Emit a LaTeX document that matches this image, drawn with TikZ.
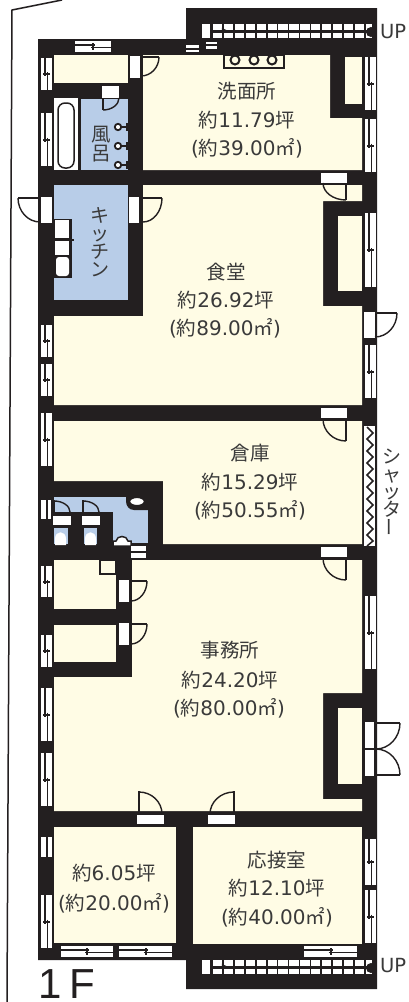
\documentclass[tikz,border=0pt]{standalone}
\usepackage{fontspec}
\usepackage{graphicx}
\usetikzlibrary{calc,arrows.meta}
\newfontfamily\jpf{Noto Sans CJK JP}
\newfontfamily\dgf{DejaVu Sans}
\newfontfamily\lbf{Liberation Sans}
\definecolor{wallc}{HTML}{231F20}
\definecolor{creamc}{HTML}{FFFCE5}
\definecolor{bluec}{HTML}{B8CDE8}
\definecolor{textc}{HTML}{3A3A3A}
\newcommand{\nm}[1]{{\dgf\fontsize{20}{22}\selectfont #1}}
\newcommand{\vwin}[3]{%
  \fill[white] (#1,#2) rectangle ({#1+10.5},#3);
  \draw[rail] ({#1+4},#2) -- ({#1+4},{(#2+#3)/2+2});
  \draw[rail] ({#1+6.5},{(#2+#3)/2-2}) -- ({#1+6.5},#3);
  \draw[line width=2pt,wallc] ({#1+2},{(#2+#3)/2}) -- ({#1+8.5},{(#2+#3)/2});
}
\newcommand{\hwin}[3]{%
  \fill[white] (#1,#3) rectangle (#2,{#3+11});
  \draw[rail] (#1,{#3+4}) -- ({(#1+#2)/2+2},{#3+4});
  \draw[rail] ({(#1+#2)/2-2},{#3+6.5}) -- (#2,{#3+6.5});
  \draw[line width=2pt,wallc] ({(#1+#2)/2},{#3+2}) -- ({(#1+#2)/2},{#3+8.5});
}
\newcommand{\dcurve}[3]{%
  \draw[doorline] (#1) .. controls ($(#1)!.55!(#2)$) and ($(#3)!.55!(#2)$) .. (#3);
}
\newcommand{\stairs}[1]{%
  \fill[white] (202,#1) rectangle (210,{#1+14});
  \foreach \k in {0,...,14} {
    \fill[white] ({213+\k*10.9},#1) rectangle ({min(213+\k*10.9+9.3,372)},{#1+6});
    \fill[white] ({213+\k*10.9},{#1+9}) rectangle ({min(213+\k*10.9+9.3,372)},{#1+14});
  }
  \draw[line width=1.5pt,wallc,-{Latex[length=6pt,width=7pt]}] (213,{#1+7.5}) -- (228,{#1+6.5});
  \fill[wallc] (371,{#1+8}) circle (5);
}
\begin{document}
\begin{tikzpicture}[x=1pt,y=-1pt,
  rail/.style={line width=1.4pt,wallc},
  doorline/.style={line width=1.4pt,wallc},
  leaf/.style={fill=white},
  roomtext/.style={text=textc,font=\jpf\fontsize{19.5}{22}\selectfont,inner sep=0pt,anchor=center},
  uptext/.style={text=textc,font=\dgf\fontsize{19.5}{22}\selectfont,inner sep=0pt,anchor=west}]
\useasboundingbox (0,0) rectangle (408,1002);
\fill[white] (0,0) rectangle (408,1002);
% site line
\draw[line width=1.5pt,wallc] (62,0) -- (12,10) -- (7,1002);
% walls
\fill[wallc] (38,39) -- (186,39) -- (186,8) -- (377,8) -- (377,989) -- (186,989) -- (186,960) -- (38,960) -- cycle;
% cream rooms
\fill[creamc] (143,55) -- (330,55) -- (330,118) -- (362,118) -- (362,170) -- (143,170) -- cycle;
\fill[creamc] (345,57) rectangle (362,104);
\fill[creamc] (54,55) rectangle (128,83);
\fill[creamc] (143,185) -- (362,185) -- (362,201) -- (323,201) -- (323,306) -- (362,306) -- (362,405) -- (54,405) -- (54,316) -- (143,316) -- cycle;
\fill[creamc] (338,216) rectangle (362,291);
\fill[creamc] (54,421) -- (362,421) -- (362,544) -- (163,544) -- (163,481) -- (54,481) -- cycle;
\fill[creamc] (132,560) -- (362,560) -- (362,693) -- (323,693) -- (323,799) -- (362,799) -- (362,811) -- (54,811) -- (54,677) -- (132,677) -- cycle;
\fill[creamc] (338,708) rectangle (362,784);
\fill[creamc] (54,560) rectangle (116,609);
\fill[wallc] (99,560) rectangle (116,575);
\fill[creamc] (101,561) rectangle (115,573);
\fill[creamc] (54,625) rectangle (116,662);
\fill[creamc] (54,827) rectangle (176,943);
\fill[creamc] (193,827) rectangle (362,944);
% blue rooms
\fill[white] (54,98) rectangle (78,170);
\fill[bluec] (81,99) rectangle (128,170);
\fill[bluec] (54,185) rectangle (128,300);
\fill[bluec] (54,497) rectangle (148,543);
% bath
\draw[line width=1.5pt,wallc,rounded corners=7pt] (58,103) rectangle (74,168);
\foreach \yy in {127,146,165} {
  \draw[line width=1.8pt,wallc,fill=white] (118,\yy) circle (3.2);
  \draw[line width=1.2pt,wallc] (121,\yy) -- (128,\yy);
  \draw[line width=1.2pt,wallc] (127,{\yy-4}) -- (127,{\yy+4});
}
% sink counter
\draw[line width=1.5pt,wallc,fill=creamc] (224,55) rectangle (284,68);
\foreach \xx in {235,254,272} \draw[line width=2pt,wallc,fill=creamc] (\xx,60) circle (4.5);
% kitchen counter
\fill[wallc] (54,219) rectangle (72,278);
\fill[white] (55,220) rectangle (69,238);
\fill[white] (55,241) rectangle (69,255);
\fill[white,rounded corners=3pt] (56,257) rectangle (69,276);
\draw[line width=1.4pt,wallc] (54,240) -- (74,240);
% toilets
\fill[wallc] (54,512) rectangle (113,546);
\fill[wallc] (113,543) rectangle (132,546);
\fill[bluec] (54,528) rectangle (68,544);
\fill[bluec] (84,528) rectangle (97,544);
\fill[wallc] (54,544) rectangle (132,560);
\fill[white] (55,545) -- (55,539) .. controls (55,530) and (66,530) .. (66,539) -- (66,545) -- cycle;
\fill[white] (85,545) -- (85,539) .. controls (85,530) and (96,530) .. (96,539) -- (96,545) -- cycle;
\fill[white] (53,516) rectangle (71,525);
\fill[white] (82,516) rectangle (100,525);
\draw[line width=1.4pt,wallc] (54,500) -- (54,512);
\coordinate (ta) at (54,501); \coordinate (tk) at (70,501); \coordinate (tb) at (70,512);
\dcurve{ta}{tk}{tb}
\draw[line width=1.4pt,wallc] (83,500) -- (83,512);
\coordinate (ua) at (83,501); \coordinate (uk) at (99,501); \coordinate (ub) at (99,512);
\dcurve{ua}{uk}{ub}
\draw[line width=1.5pt,wallc,fill=white] (113,546) -- (113,541) -- (116,541) .. controls (117,535) and (127,535) .. (128,541) -- (131,541) -- (131,546) -- cycle;
\fill[wallc] (126,495) -- (148,495) -- (148,510) -- (134,510) .. controls (129,510) and (126,506) .. (126,501) -- cycle;
\draw[line width=1.5pt,wallc,fill=white] (137,501.5) ellipse (7.5 and 4.2);
\fill[white] (131,546) rectangle (146,551);
\fill[white] (131,553) rectangle (146,558);
\fill[white] (41,500) rectangle (46,519);
\fill[white] (48,500) rectangle (51,519);
% left windows
\vwin{41}{58}{90}
\vwin{41}{113}{166}
\vwin{41}{325}{357}
\vwin{41}{364}{396}
\vwin{41}{413}{466}
\vwin{41}{566}{597}
\vwin{41}{635}{667}
\vwin{41}{688}{741}
\vwin{41}{753}{806}
\vwin{41}{895}{948}
\fill[white] (41,837) rectangle (46,857);
\fill[white] (48,837) rectangle (52,857);
% right windows
\vwin{365}{57}{110}
\vwin{365}{119}{172}
\vwin{365}{213}{287}
\vwin{365}{345}{398}
\vwin{365}{596}{669}
\vwin{365}{839}{885}
\vwin{365}{890}{943}
% horizontal windows
\hwin{75}{111}{41}
\hwin{61}{113}{946}
\hwin{119}{172}{946}
\hwin{304}{357}{946}
\fill[white] (186,45) rectangle (199,47.5);
\fill[white] (186,49.5) rectangle (199,51.5);
\fill[white] (206,41.5) rectangle (217,44);
\fill[white] (206,46) rectangle (217,49);
\draw[line width=1.4pt,wallc] (199,47.5) -- (206,45);
% stairs
\stairs{24}
\stairs{960}
\node[uptext] (upa) at (380,32) {UP};
\node[uptext] (upb) at (380,966) {UP};
% shutter
\fill[white] (364,426) rectangle (375,546);
\draw[line width=1.5pt,wallc,line join=miter] (367,427) -- (373,433) -- (367,439) -- (373,445) -- (367,451) -- (373,457) -- (367,463) -- (373,469) -- (367,475) -- (373,481) -- (367,487) -- (373,493) -- (367,499) -- (373,505) -- (367,511) -- (373,517) -- (367,523) -- (373,529) -- (367,535) -- (373,541) -- (367,546);
% doors
\fill[leaf] (130,56) rectangle (140,78);
\draw[doorline] (141,57) -- (159,57);
\coordinate (a1) at (159,57); \coordinate (k1) at (159,76); \coordinate (b1) at (141,76); \dcurve{a1}{k1}{b1}
\fill[leaf] (102,86) rectangle (119,98);
\draw[doorline] (103,98) -- (103,110);
\coordinate (a2) at (103,110); \coordinate (k2) at (119,110); \coordinate (b2) at (119,98); \dcurve{a2}{k2}{b2}
\fill[leaf] (321,173) rectangle (347,183);
\draw[doorline] (346,183) -- (346,200);
\coordinate (a3) at (323,183); \coordinate (k3) at (323,200); \coordinate (b3) at (346,200); \dcurve{a3}{k3}{b3}
\fill[leaf] (41,197) rectangle (52,223);
\draw[doorline] (18,198) -- (40,198);
\coordinate (a4) at (18,198); \coordinate (k4) at (18,222); \coordinate (b4) at (40,222); \dcurve{a4}{k4}{b4}
\fill[leaf] (129,197) rectangle (139,223);
\draw[doorline] (142,198) -- (162,198);
\coordinate (a5) at (162,198); \coordinate (k5) at (162,222); \coordinate (b5) at (143,222); \dcurve{a5}{k5}{b5}
\fill[leaf] (364,312) rectangle (375,338);
\draw[doorline] (375,313) -- (397,313);
\coordinate (a6) at (397,313); \coordinate (k6) at (397,337); \coordinate (b6) at (375,337); \dcurve{a6}{k6}{b6}
\fill[leaf] (321,408) rectangle (347,418);
\draw[doorline] (346,418) -- (346,441);
\coordinate (a7) at (323,419); \coordinate (k7) at (323,441); \coordinate (b7) at (346,441); \dcurve{a7}{k7}{b7}
\fill[leaf] (321,547) rectangle (347,557);
\draw[doorline] (346,557) -- (346,580);
\coordinate (a8) at (323,558); \coordinate (k8) at (323,580); \coordinate (b8) at (346,580); \dcurve{a8}{k8}{b8}
\fill[leaf] (119,580) rectangle (129,602);
\draw[doorline] (129,581) -- (147,581);
\coordinate (a9) at (147,581); \coordinate (k9) at (147,601); \coordinate (b9) at (131,601); \dcurve{a9}{k9}{b9}
\fill[leaf] (119,623) rectangle (129,645);
\draw[doorline] (129,624) -- (147,624);
\coordinate (a10) at (147,624); \coordinate (k10) at (147,644); \coordinate (b10) at (131,644); \dcurve{a10}{k10}{b10}
\fill[leaf] (137,815) rectangle (164,824);
\draw[doorline] (139,815) -- (139,791);
\coordinate (a11) at (139,792); \coordinate (k11) at (162,792); \coordinate (b11) at (162,814); \dcurve{a11}{k11}{b11}
\fill[leaf] (208,815) rectangle (235,824);
\draw[doorline] (234,815) -- (234,791);
\coordinate (a12) at (234,792); \coordinate (k12) at (210,792); \coordinate (b12) at (210,814); \dcurve{a12}{k12}{b12}
\fill[leaf] (365,722) rectangle (375,776);
\draw[doorline] (375,722) -- (375,776);
\draw[doorline] (365,749) -- (376,749);
\draw[doorline] (375,723) -- (400,723);
\draw[doorline] (375,775) -- (400,775);
\coordinate (a13) at (400,723); \coordinate (k13) at (400,749); \coordinate (b13) at (376,749); \dcurve{a13}{k13}{b13}
\coordinate (a14) at (400,775); \coordinate (k14) at (400,749); \coordinate (b14) at (376,749); \dcurve{a14}{k14}{b14}
% labels
\node[roomtext] (r1a) at (247,91) {洗面所};
\node[roomtext] (r1b) at (247,120) {約\nm{11.79}坪};
\node[roomtext] (r1c) at (247,148) {\nm{(}約\nm{39.00}㎡\nm{)}};
\node[roomtext] (r2a) at (226,272) {食堂};
\node[roomtext] (r2b) at (226,300) {約\nm{26.92}坪};
\node[roomtext] (r2c) at (225,328) {\nm{(}約\nm{89.00}㎡\nm{)}};
\node[roomtext] (r3a) at (250,453) {倉庫};
\node[roomtext] (r3b) at (250,482) {約\nm{15.29}坪};
\node[roomtext] (r3c) at (250,510) {\nm{(}約\nm{50.55}㎡\nm{)}};
\node[roomtext] (r4a) at (230,650) {事務所};
\node[roomtext] (r4b) at (230,680) {約\nm{24.20}坪};
\node[roomtext] (r4c) at (229,708) {\nm{(}約\nm{80.00}㎡\nm{)}};
\node[roomtext] (r5b) at (114,873) {約\nm{6.05}坪};
\node[roomtext] (r5c) at (114,903) {\nm{(}約\nm{20.00}㎡\nm{)}};
\node[roomtext] (r6a) at (277,860) {応接室};
\node[roomtext] (r6b) at (277,888) {約\nm{12.10}坪};
\node[roomtext] (r6c) at (277,917) {\nm{(}約\nm{40.00}㎡\nm{)}};
\node[roomtext,align=center,font=\jpf\fontsize{19.5}{19}\selectfont] (bath) at (101,144) {風\\呂};
\node[roomtext,align=center,font=\jpf\fontsize{19}{18}\selectfont] (kit) at (100,242) {キ\\ッ\\チ\\ン};
\node[roomtext,align=center,font=\jpf\fontsize{19}{17.5}\selectfont] (shut) at (392,493) {シ\\ャ\\ッ\\タ\\\rotatebox{90}{ー}};
\node[text=wallc,font=\lbf\fontsize{42}{44}\selectfont,inner sep=0pt,anchor=base] (floor) at (67,998) {1\hspace{8pt}F};
\end{tikzpicture}
\end{document}
